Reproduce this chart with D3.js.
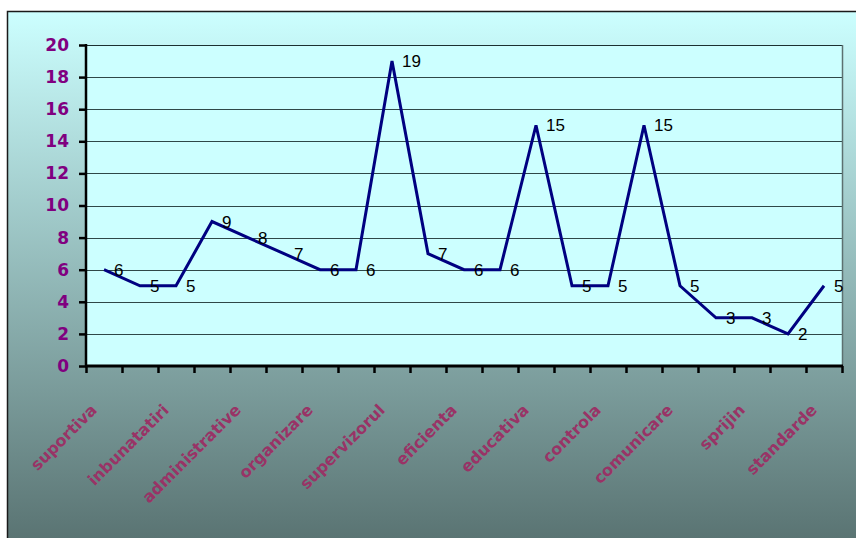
<!DOCTYPE html>
<html>
<head>
<meta charset="utf-8">
<script src="https://cdn.jsdelivr.net/npm/d3@7"></script>
<style>
  body { margin: 0; background: #fff; }
  svg { display: block; }
</style>
</head>
<body>
<svg id="chart"></svg>
<script>
// data (odd categories have no visible label)
const categories = ["suportiva", "", "inbunatatiri", "", "administrative", "", "organizare", "",
  "supervizorul", "", "eficienta", "", "educativa", "", "controla", "", "comunicare", "",
  "sprijin", "", "standarde"];
const values = [6, 5, 5, 9, 8, 7, 6, 6, 19, 7, 6, 6, 15, 5, 5, 15, 5, 3, 3, 2, 5];
const yTicks = [0, 2, 4, 6, 8, 10, 12, 14, 16, 18, 20];

// constants
const width = 856;
const height = 538;
const margin = { left: 86, right: 14, top: 45, bottom: 172 };

const svg = d3.select('svg#chart').attr('width', width).attr('height', height);

// background gradient of the chart area
const grad = svg.append('defs').append('linearGradient')
  .attr('id', 'bg').attr('gradientUnits', 'userSpaceOnUse')
  .attr('x1', 0).attr('y1', 11).attr('x2', 0).attr('y2', height);
grad.append('stop').attr('offset', 0).attr('stop-color', '#ccffff');
grad.append('stop').attr('offset', 1).attr('stop-color', '#5a7473');

svg.append('rect').attr('x', 7).attr('y', 11)
  .attr('width', width).attr('height', height).attr('fill', 'url(#bg)');
svg.append('path').attr('d', `M7.5,${height}V11.5H${width}`)
  .attr('fill', 'none').attr('stroke', '#1a1a1a').attr('stroke-width', 1.5);

// scales
const x = d3.scaleBand().domain(d3.range(categories.length))
  .range([margin.left, width - margin.right]);
const xEdge = d3.scaleLinear().domain([0, categories.length])
  .range([margin.left, width - margin.right]);
const y = d3.scaleLinear().domain([0, 20]).range([height - margin.bottom, margin.top]);

// plot area
svg.append('rect')
  .attr('x', margin.left).attr('y', margin.top)
  .attr('width', width - margin.left - margin.right)
  .attr('height', height - margin.top - margin.bottom)
  .attr('fill', '#ccffff');

// gridlines
svg.append('g').selectAll('line').data(yTicks.filter(t => t > 0)).enter().append('line')
  .attr('x1', margin.left).attr('x2', width - margin.right)
  .attr('y1', d => Math.round(y(d)) + 0.5).attr('y2', d => Math.round(y(d)) + 0.5)
  .attr('stroke', d => d === 20 ? '#1c3030' : '#2e4848').attr('stroke-width', 1.2);

// right border of the plot
svg.append('line')
  .attr('x1', width - margin.right + 0.5).attr('x2', width - margin.right + 0.5)
  .attr('y1', margin.top).attr('y2', height - margin.bottom)
  .attr('stroke', '#5c7070').attr('stroke-width', 1.5);

// y axis
const yAxis = svg.append('g')
  .attr('transform', `translate(${margin.left},0)`)
  .call(d3.axisLeft(y).tickValues(yTicks).tickSize(7).tickSizeOuter(0).tickPadding(10));
yAxis.select('.domain').remove();
yAxis.selectAll('.tick line').attr('stroke', '#000').attr('stroke-width', 2.5);
yAxis.selectAll('.tick text')
  .attr('fill', '#800080')
  .style('font', 'bold 17px "DejaVu Sans", sans-serif');
svg.append('line')
  .attr('x1', margin.left).attr('x2', margin.left)
  .attr('y1', margin.top - 1).attr('y2', height - margin.bottom)
  .attr('stroke', '#000').attr('stroke-width', 2.5);

// x axis
const xAxis = svg.append('g')
  .attr('transform', `translate(0,${height - margin.bottom})`)
  .call(d3.axisBottom(xEdge).tickValues(d3.range(categories.length + 1))
    .tickFormat('').tickSize(7).tickSizeOuter(0));
xAxis.select('.domain').remove();
xAxis.selectAll('.tick line').attr('stroke', '#000').attr('stroke-width', 2.5);
svg.append('line')
  .attr('x1', margin.left - 1).attr('x2', width - margin.right + 1)
  .attr('y1', height - margin.bottom).attr('y2', height - margin.bottom)
  .attr('stroke', '#000').attr('stroke-width', 3);

// category labels
svg.append('g').selectAll('text').data(categories).enter().append('text')
  .attr('transform', (d, i) => `translate(${x(i) + x.bandwidth() / 2 - 6},${height - margin.bottom + 45}) rotate(-45)`)
  .attr('text-anchor', 'end')
  .attr('fill', '#993366')
  .style('font', 'bold 16px "DejaVu Sans", sans-serif')
  .text(d => d);

// the line
const line = d3.line()
  .x((d, i) => x(i) + x.bandwidth() / 2)
  .y(d => y(d));
svg.append('path').datum(values)
  .attr('d', line)
  .attr('fill', 'none')
  .attr('stroke', '#000080')
  .attr('stroke-width', 3);

// value labels
svg.append('g').selectAll('text').data(values).enter().append('text')
  .attr('x', (d, i) => x(i) + x.bandwidth() / 2 + 10)
  .attr('y', d => y(d) + 6)
  .attr('fill', '#000')
  .style('font', '17px "Liberation Sans", Arial, sans-serif')
  .text(d => d);
</script>
</body>
</html>
